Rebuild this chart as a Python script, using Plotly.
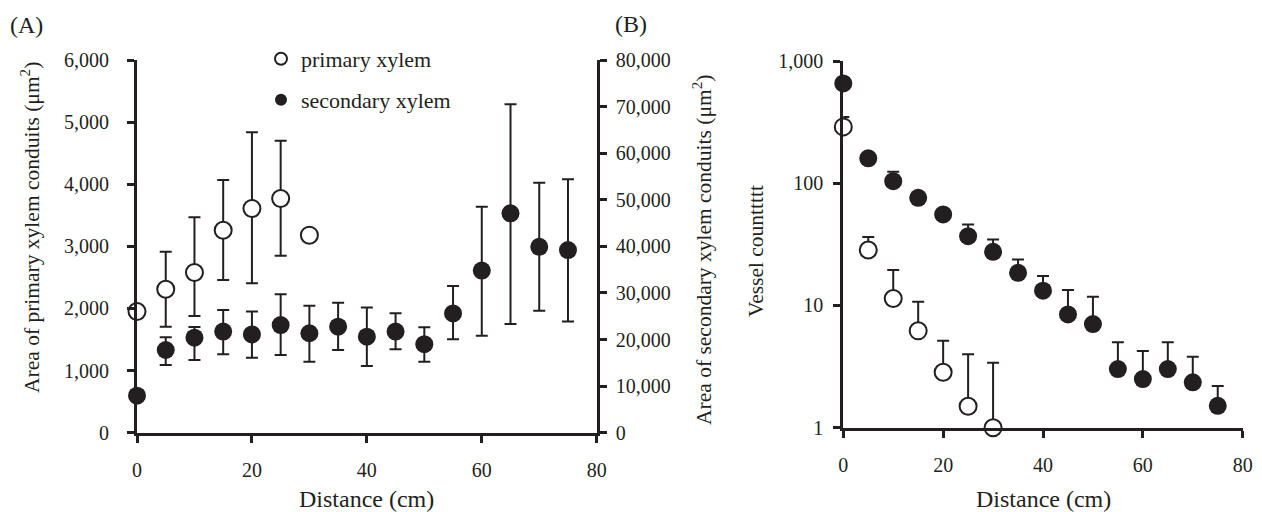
import plotly.graph_objects as go

# ---------------- data ----------------
# Panel A: conduit area
dist_primary_a = [0, 5, 10, 15, 20, 25, 30]
primary_area = [1950, 2310, 2580, 3260, 3610, 3770, 3180]
primary_area_top = [None, 2915, 3470, 4070, 4835, 4700, None]
primary_area_bottom = [None, 1705, 1880, 2460, 2405, 2850, None]

dist_secondary_a = [0, 5, 10, 15, 20, 25, 30, 35, 40, 45, 50, 55, 60, 65, 70, 75]
secondary_area = [7950, 17750, 20400, 21700, 21100, 23100, 21350, 22750, 20600,
                  21700, 19000, 25600, 34800, 47100, 39900, 39200]
secondary_area_top = [None, 20500, 22700, 26350, 26000, 29700, 27250, 27900, 26850,
                      25650, 22650, 31500, 48500, 70500, 53650, 54400]
secondary_area_bottom = [None, 14550, 15600, 16850, 16100, 16700, 15250, 17750, 14300,
                         17900, 15250, 20050, 20800, 23350, 26150, 23850]

# Panel B: vessel count
dist_primary_b = [0, 5, 10, 15, 20, 25, 30]
primary_count = [289, 28.4, 11.4, 6.2, 2.84, 1.5, 1.0]
primary_count_top = [349, 36.3, 19.5, 10.7, 5.14, 3.98, 3.40]

dist_secondary_b = [0, 5, 10, 15, 20, 25, 30, 35, 40, 45, 50, 55, 60, 65, 70, 75]
secondary_count = [655, 160, 104, 76, 55.6, 36.9, 27.5, 18.5, 13.2, 8.45, 7.05,
                   3.02, 2.50, 3.02, 2.35, 1.51]
secondary_count_top = [None, None, 124, None, None, 46, 34.7, 23.8, 17.4, 13.4, 11.8,
                       4.99, 4.24, 4.99, 3.81, 2.19]

x_ticks = [0, 20, 40, 60, 80]
count_ticks = [1, 10, 100, 1000]
count_tick_labels = ["1", "10", "100", "1,000"]

# ---------------- helpers ----------------
def up(vals, tops):
    return [(t - v) if t is not None else 0 for v, t in zip(vals, tops)]

def down(vals, bottoms):
    return [(v - b) if b is not None else 0 for v, b in zip(vals, bottoms)]

FONT = "Liberation Serif"
INK = "#231f20"
PAGE_MARGIN = 8            # default body margin of the html page
W, H = 1262 - 2 * PAGE_MARGIN, 512 - PAGE_MARGIN

def px(x):
    return (x - PAGE_MARGIN) / W

def py(y):
    return 1 - (y - PAGE_MARGIN) / H

err_style = dict(type="data", symmetric=False, color=INK, thickness=2, width=6)
open_marker = dict(symbol="circle", size=17, color="white", line=dict(color=INK, width=2))
fill_marker = dict(symbol="circle", size=18, color=INK, line=dict(color=INK, width=0))

fig = go.Figure()

fig.add_trace(go.Scatter(
    x=dist_secondary_a, y=secondary_area, mode="markers", name="secondary xylem",
    marker=fill_marker, xaxis="x", yaxis="y2", cliponaxis=False, legend="legend2",
    error_y=dict(err_style, array=up(secondary_area, secondary_area_top),
                 arrayminus=down(secondary_area, secondary_area_bottom))))

fig.add_trace(go.Scatter(
    x=dist_primary_a, y=primary_area, mode="markers", name="primary xylem",
    marker=open_marker, xaxis="x", yaxis="y", cliponaxis=False, legend="legend",
    error_y=dict(err_style, array=up(primary_area, primary_area_top),
                 arrayminus=down(primary_area, primary_area_bottom))))

fig.add_trace(go.Scatter(
    x=dist_secondary_b, y=secondary_count, mode="markers", name="secondary xylem",
    marker=fill_marker, xaxis="x2", yaxis="y3", cliponaxis=False, showlegend=False,
    error_y=dict(err_style, array=up(secondary_count, secondary_count_top),
                 arrayminus=[0] * len(secondary_count))))

fig.add_trace(go.Scatter(
    x=dist_primary_b, y=primary_count, mode="markers", name="primary xylem",
    marker=open_marker, xaxis="x2", yaxis="y3", cliponaxis=False, showlegend=False,
    error_y=dict(err_style, array=up(primary_count, primary_count_top),
                 arrayminus=[0] * len(primary_count))))

axis_common = dict(showline=True, linecolor=INK, linewidth=3, ticks="outside",
                   ticklen=7, tickwidth=3, tickcolor=INK, showgrid=False, zeroline=False,
                   automargin=False,
                   tickfont=dict(family=FONT, size=20, color=INK))

fig.update_layout(
    width=W, height=H, margin=dict(l=0, r=0, t=0, b=0, autoexpand=False),
    paper_bgcolor="white", plot_bgcolor="white",
    font=dict(family=FONT, color=INK),
    xaxis=dict(axis_common, domain=[px(137), px(596.7)], range=[0, 80],
               tickvals=x_ticks, anchor="y", ticklabelstandoff=10),
    yaxis=dict(axis_common, domain=[py(432.7), py(60)], range=[0, 6000], dtick=1000,
               tickformat=",", anchor="x", ticklabelstandoff=14),
    yaxis2=dict(axis_common, overlaying="y", side="right", range=[0, 80000],
                dtick=10000, tickformat=",", anchor="x", ticklabelstandoff=5),
    xaxis2=dict(axis_common, domain=[px(843.3), px(1242.7)], range=[0, 80],
                tickvals=x_ticks, anchor="y3", ticklabelstandoff=10),
    yaxis3=dict(axis_common, domain=[py(427.7), py(61)], type="log", range=[0, 3],
                tickvals=count_ticks, ticktext=count_tick_labels, anchor="x2",
                ticklabelstandoff=6),
    legend=dict(x=px(261), y=py(38), xanchor="left", yanchor="top",
                bgcolor="rgba(0,0,0,0)", font=dict(family=FONT, size=22, color=INK),
                itemsizing="constant"),
    legend2=dict(x=px(261), y=py(79), xanchor="left", yanchor="top",
                 bgcolor="rgba(0,0,0,0)", font=dict(family=FONT, size=22, color=INK),
                 itemsizing="constant"),
)

def note(text, x, y, size, angle=0):
    fig.add_annotation(text=text, x=px(x), y=py(y), xref="paper", yref="paper",
                       xanchor="center", yanchor="middle", showarrow=False,
                       textangle=angle, font=dict(family=FONT, size=size, color=INK))

note("(A)", 26, 25, 24)
note("(B)", 631, 24, 24)
note("Area of primary xylem conduits (μm<sup>2</sup>)", 30, 228, 21.5, -90)
note("Area of secondary xylem conduits (μm<sup>2</sup>)", 702, 250, 21.5, -90)
note("Vessel counttttt", 756, 251, 21.5, -90)
note("Distance (cm)", 366, 499, 24)
note("Distance (cm)", 1043, 499, 24)

fig.write_html("out.html")
